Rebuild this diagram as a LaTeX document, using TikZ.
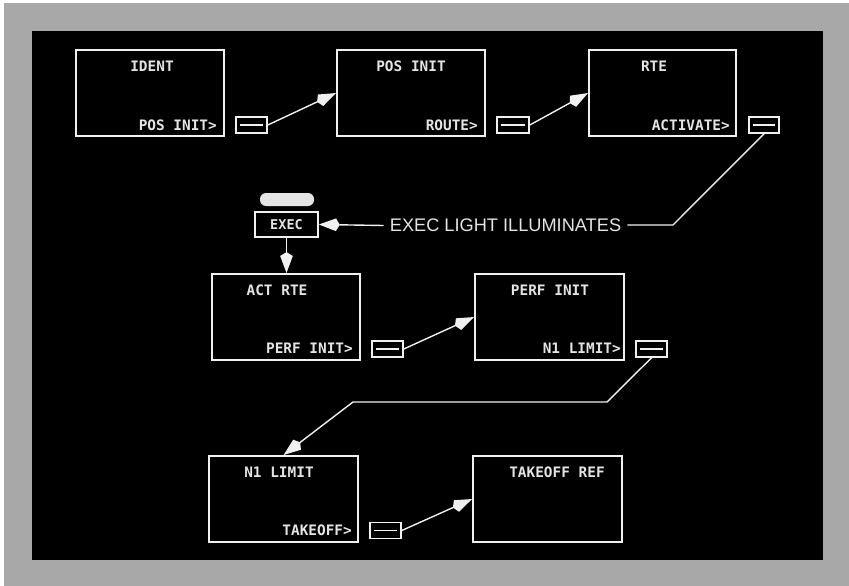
\documentclass[tikz,border=0pt]{standalone}
\usepackage{fontspec}
\setmonofont{DejaVu Sans Mono}
\newfontfamily\labelsans{Liberation Sans}
\usetikzlibrary{arrows.meta}
\definecolor{bggray}{RGB}{168,168,168}
\definecolor{fg}{RGB}{240,240,240}
\definecolor{txt}{RGB}{228,228,228}
\definecolor{pillc}{RGB}{228,228,228}
\tikzset{
  pagebox/.style={draw=fg, line width=1.8pt, minimum width=148pt, minimum height=86pt, inner sep=0pt},
  btn/.style={draw=fg, line width=1.6pt, minimum width=31pt, minimum height=16pt, inner sep=0pt},
  mono/.style={text=txt, font=\ttfamily\bfseries\fontsize{14.4}{16}\selectfont, inner sep=0pt},
  ttl/.style={mono, anchor=center},
  lsk/.style={mono, anchor=east},
  conn/.style={draw=fg, line width=1.4pt},
  arr/.style={conn, -{Stealth[length=17pt,width=12pt,inset=-4pt]}},
}
\newcommand{\btnline}[1]{\draw[fg, line width=1.6pt] ([xshift=4.5pt]#1.west) -- ([xshift=-4.5pt]#1.east);}
\begin{document}
\begin{tikzpicture}[x=1pt,y=-1pt]
\useasboundingbox (0,0) rectangle (849,586);
\fill[white] (0,0) rectangle (849,586);
\fill[bggray] (4,3) rectangle (849,586);
\fill[black] (32,31) rectangle (823,560);

% page boxes
\node[pagebox] (ident) at (150,93) {};
\node[pagebox] (posinit) at (411,93) {};
\node[pagebox, minimum width=147pt] (rte) at (662.5,93) {};
\node[pagebox] (actrte) at (286,317) {};
\node[pagebox, minimum width=149pt] (perfinit) at (549.5,317) {};
\node[pagebox, minimum width=149pt] (n1) at (283.5,499) {};
\node[pagebox, minimum width=149pt] (takeoff) at (547.5,499) {};

% titles
\node[ttl] (identT) at (152,66) {IDENT};
\node[ttl] (posinitT) at (411,66) {POS INIT};
\node[ttl] (rteT) at (654,66) {RTE};
\node[ttl] (actrteT) at (277,290) {ACT RTE};
\node[ttl] (perfinitT) at (550,290) {PERF INIT};
\node[ttl] (n1T) at (279,472) {N1 LIMIT};
\node[ttl] (takeoffT) at (557,472) {TAKEOFF REF};

% line select labels
\node[lsk] (identL) at (217,125) {POS INIT>};
\node[lsk] (posinitL) at (478,125) {ROUTE>};
\node[lsk] (rteL) at (730,125) {ACTIVATE>};
\node[lsk] (actrteL) at (353,348) {PERF INIT>};
\node[lsk] (perfinitL) at (621,348) {N1 LIMIT>};
\node[lsk] (n1L) at (352,530) {TAKEOFF>};

% buttons
\node[btn] (b1) at (251.5,125) {}; \btnline{b1}
\node[btn, minimum width=32pt] (b2) at (513,125) {}; \btnline{b2}
\node[btn, minimum width=30pt] (b3) at (764,125) {}; \btnline{b3}
\node[btn] (b4) at (387.5,349) {}; \btnline{b4}
\node[btn] (b5) at (651.5,349) {}; \btnline{b5}
\node[btn] (b6) at (385.5,530.5) {}; \btnline{b6}

% exec
\node[fill=pillc, rounded corners=6pt, minimum width=54pt, minimum height=13pt, inner sep=0pt] (light) at (287,199.5) {};
\node[draw=fg, line width=1.6pt, minimum width=63pt, minimum height=25pt, inner sep=0pt,
      text=txt, font=\ttfamily\bfseries\fontsize{13.5}{15}\selectfont] (exec) at (286.5,224.5) {EXEC};
\node[text=txt, font=\labelsans\fontsize{18.2}{20}\selectfont, inner xsep=6pt, inner ysep=0pt] (execlbl) at (505.5,225.5) {EXEC LIGHT ILLUMINATES};

% connectors
\coordinate (c1) at (673,225);
\coordinate (c2) at (607,402);
\coordinate (c3) at (353,402);
\draw[arr] (b1.east) -- (posinit.west);
\draw[arr] (b2.east) -- (rte.west);
\draw[conn] (b3.south) -- (c1) -- (execlbl.east |- c1);
\draw[arr] (execlbl.west) -- (exec.east);
\draw[arr] (exec.south) -- (actrte.north -| exec.south);
\draw[arr] (b4.east) -- (perfinit.west);
\draw[arr] (b5.south) -- (c2) -- (c3) -- (n1.north);
\draw[arr] (b6.east) -- (takeoff.west);
\end{tikzpicture}
\end{document}
